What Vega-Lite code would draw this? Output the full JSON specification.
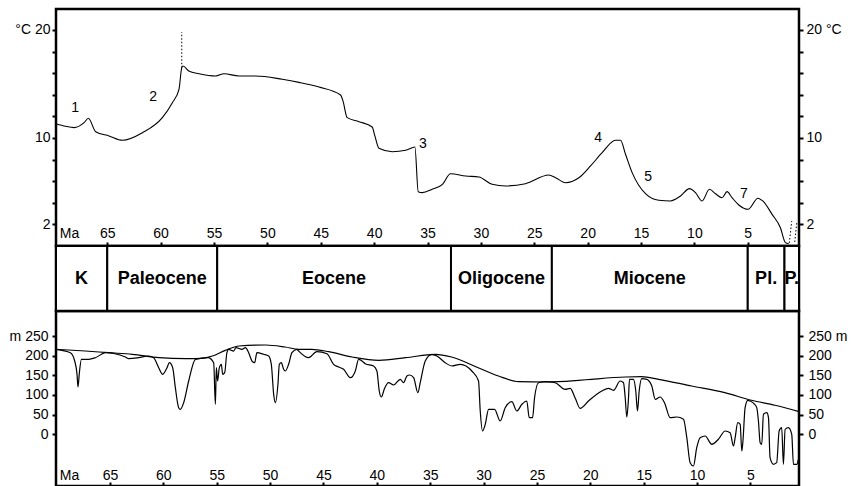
{
  "$schema": "https://vega.github.io/schema/vega-lite/v6.json",
  "autosize": {"type": "pad"},
  "padding": {"left": 7, "top": 7, "right": 5, "bottom": 0},
  "background": "white",
  "bounds": "flush",
  "spacing": 0,
  "config": {
    "view": {"stroke": "black", "strokeWidth": 2.5},
    "font": "Liberation Sans",
    "axis": {
      "labelFont": "Liberation Sans",
      "labelFontSize": 14,
      "labelColor": "black",
      "tickColor": "black",
      "tickWidth": 2,
      "domain": false,
      "grid": false,
      "labelFlush": false,
      "labelOverlap": false,
      "titleFont": "Liberation Sans",
      "titleFontSize": 14,
      "titleFontWeight": "normal",
      "titleColor": "black"
    }
  },
  "datasets": {
    "temp": [
      {"ma": 69.8, "t": 11.32}, {"ma": 68.9, "t": 11.08}, {"ma": 68.1, "t": 10.96}, {"ma": 67.17, "t": 11.42},
      {"ma": 66.77, "t": 11.82}, {"ma": 66.08, "t": 10.58}, {"ma": 64.83, "t": 10.19}, {"ma": 63.58, "t": 9.79},
      {"ma": 61.7, "t": 10.49}, {"ma": 59.84, "t": 11.88}, {"ma": 58.9, "t": 13.27}, {"ma": 58.28, "t": 14.51},
      {"ma": 58.02, "t": 16.51}, {"ma": 57.9, "t": 16.67}, {"ma": 57.36, "t": 16.2}, {"ma": 56.4, "t": 15.95},
      {"ma": 54.84, "t": 15.74}, {"ma": 54.06, "t": 15.95}, {"ma": 52.66, "t": 15.74}, {"ma": 51.1, "t": 15.74},
      {"ma": 48.6, "t": 15.43}, {"ma": 47.04, "t": 15.15}, {"ma": 45.17, "t": 14.72}, {"ma": 43.14, "t": 13.98},
      {"ma": 42.92, "t": 13.43}, {"ma": 42.52, "t": 11.88}, {"ma": 41.42, "t": 11.51}, {"ma": 40.18, "t": 11.02},
      {"ma": 39.93, "t": 10.19}, {"ma": 39.55, "t": 9.05}, {"ma": 38.3, "t": 8.73}, {"ma": 37.05, "t": 8.86},
      {"ma": 36.18, "t": 9.17}, {"ma": 35.87, "t": 5.03}, {"ma": 35.5, "t": 4.94}, {"ma": 34.56, "t": 5.25},
      {"ma": 33.6, "t": 5.71}, {"ma": 32.84, "t": 6.69}, {"ma": 31.43, "t": 6.48}, {"ma": 30.19, "t": 6.39},
      {"ma": 28.94, "t": 5.71}, {"ma": 27.69, "t": 5.56}, {"ma": 25.82, "t": 5.77}, {"ma": 23.63, "t": 6.57},
      {"ma": 23.0, "t": 6.32}, {"ma": 22.07, "t": 5.86}, {"ma": 20.82, "t": 6.32}, {"ma": 19.73, "t": 7.41},
      {"ma": 18.64, "t": 8.64}, {"ma": 17.39, "t": 9.79}, {"ma": 16.92, "t": 9.79}, {"ma": 16.45, "t": 8.49},
      {"ma": 15.83, "t": 6.79}, {"ma": 14.58, "t": 4.84}, {"ma": 13.33, "t": 4.23}, {"ma": 12.24, "t": 4.17},
      {"ma": 11.3, "t": 4.63}, {"ma": 10.46, "t": 5.31}, {"ma": 9.9, "t": 4.94}, {"ma": 9.28, "t": 4.17},
      {"ma": 8.59, "t": 5.25}, {"ma": 8.02, "t": 4.84}, {"ma": 7.41, "t": 4.47}, {"ma": 6.94, "t": 5.03},
      {"ma": 6.47, "t": 4.47}, {"ma": 5.84, "t": 3.8}, {"ma": 4.97, "t": 3.4}, {"ma": 4.04, "t": 4.42},
      {"ma": 3.6, "t": 4.17}, {"ma": 2.72, "t": 2.93}, {"ma": 1.94, "t": 1.69}, {"ma": 1.47, "t": 0.31},
      {"ma": 1.16, "t": 0.21}
    ],
    "tempDotted": [
      {"seg": "a", "i": 1, "ma": 58.02, "t": 16.5}, {"seg": "a", "i": 2, "ma": 58.02, "t": 19.8},
      {"seg": "b", "i": 1, "ma": 1.11, "t": 0.28}, {"seg": "b", "i": 2, "ma": 0.88, "t": 2.31},
      {"seg": "c", "i": 1, "ma": 0.6, "t": 0.37}, {"seg": "c", "i": 2, "ma": 0.41, "t": 2.13}
    ],
    "tempLabels": [
      {"ma": 68.0, "t": 12.75, "label": "1"}, {"ma": 60.7, "t": 13.82, "label": "2"},
      {"ma": 35.43, "t": 9.47, "label": "3"}, {"ma": 19.02, "t": 9.97, "label": "4"},
      {"ma": 14.34, "t": 6.39, "label": "5"}, {"ma": 5.37, "t": 4.79, "label": "7"}
    ],
    "epochs": [
      {"epoch": "K", "start": 69.8, "end": 65.0},
      {"epoch": "Paleocene", "start": 65.0, "end": 54.7},
      {"epoch": "Eocene", "start": 54.7, "end": 32.8},
      {"epoch": "Oligocene", "start": 32.8, "end": 23.35},
      {"epoch": "Miocene", "start": 23.35, "end": 5.0},
      {"epoch": "Pl.", "start": 5.0, "end": 1.56},
      {"epoch": "P.", "start": 1.56, "end": 0.2}
    ],
    "seaShort": [
      {"ma": 70.05, "m": 216.2}, {"ma": 68.7, "m": 207.5}, {"ma": 68.3, "m": 186.4}, {"ma": 68.08, "m": 152.6},
      {"ma": 67.99, "m": 120.3}, {"ma": 67.86, "m": 156.7}, {"ma": 67.67, "m": 190.7}, {"ma": 66.98, "m": 190.7},
      {"ma": 66.36, "m": 194.8}, {"ma": 65.42, "m": 207.5}, {"ma": 64.64, "m": 205.5}, {"ma": 63.55, "m": 196.6},
      {"ma": 63.24, "m": 192.3}, {"ma": 62.3, "m": 194.8}, {"ma": 61.37, "m": 199.1}, {"ma": 60.9, "m": 194.8},
      {"ma": 60.43, "m": 169.4}, {"ma": 60.06, "m": 152.6}, {"ma": 59.65, "m": 169.4}, {"ma": 59.43, "m": 182.1},
      {"ma": 59.12, "m": 169.4}, {"ma": 58.87, "m": 118.5}, {"ma": 58.56, "m": 67.7}, {"ma": 58.4, "m": 63.6},
      {"ma": 58.09, "m": 80.4}, {"ma": 57.62, "m": 135.6}, {"ma": 56.99, "m": 190.7}, {"ma": 55.81, "m": 194.8},
      {"ma": 55.28, "m": 182.1}, {"ma": 55.12, "m": 76.3}, {"ma": 55.03, "m": 169.4}, {"ma": 54.91, "m": 135.6},
      {"ma": 54.75, "m": 169.4}, {"ma": 54.56, "m": 178.0}, {"ma": 54.44, "m": 152.6}, {"ma": 54.25, "m": 156.7},
      {"ma": 54.04, "m": 207.5}, {"ma": 53.88, "m": 216.2}, {"ma": 53.41, "m": 211.8}, {"ma": 53.19, "m": 220.3},
      {"ma": 52.63, "m": 216.2}, {"ma": 52.31, "m": 220.3}, {"ma": 52.0, "m": 207.5}, {"ma": 51.69, "m": 186.4},
      {"ma": 51.44, "m": 182.1}, {"ma": 51.23, "m": 207.5}, {"ma": 50.6, "m": 203.5}, {"ma": 50.13, "m": 199.1},
      {"ma": 49.88, "m": 178.0}, {"ma": 49.66, "m": 101.7}, {"ma": 49.5, "m": 80.4}, {"ma": 49.26, "m": 127.2},
      {"ma": 49.13, "m": 178.0}, {"ma": 48.94, "m": 182.1}, {"ma": 48.73, "m": 165.3}, {"ma": 48.57, "m": 161.0},
      {"ma": 48.26, "m": 178.0}, {"ma": 47.95, "m": 207.5}, {"ma": 47.48, "m": 216.2}, {"ma": 47.32, "m": 211.8},
      {"ma": 46.39, "m": 194.8}, {"ma": 45.61, "m": 210.1}, {"ma": 44.67, "m": 205.0}, {"ma": 44.05, "m": 178.0},
      {"ma": 43.58, "m": 171.2}, {"ma": 43.11, "m": 165.3}, {"ma": 42.48, "m": 144.0}, {"ma": 42.01, "m": 161.0},
      {"ma": 41.7, "m": 190.7}, {"ma": 41.39, "m": 186.4}, {"ma": 41.08, "m": 179.6}, {"ma": 40.3, "m": 173.7},
      {"ma": 39.99, "m": 161.0}, {"ma": 39.77, "m": 110.1}, {"ma": 39.58, "m": 94.9}, {"ma": 39.27, "m": 117.0},
      {"ma": 38.9, "m": 131.2}, {"ma": 38.43, "m": 125.4}, {"ma": 37.8, "m": 139.9}, {"ma": 37.49, "m": 131.2},
      {"ma": 37.18, "m": 148.3}, {"ma": 36.93, "m": 150.8}, {"ma": 36.55, "m": 144.0}, {"ma": 36.15, "m": 105.8},
      {"ma": 35.93, "m": 131.2}, {"ma": 35.46, "m": 186.4}, {"ma": 34.84, "m": 203.5}, {"ma": 34.37, "m": 199.1},
      {"ma": 33.59, "m": 182.1}, {"ma": 32.97, "m": 173.7}, {"ma": 32.18, "m": 178.0}, {"ma": 31.1, "m": 161.0},
      {"ma": 30.47, "m": 135.6}, {"ma": 30.31, "m": 59.3}, {"ma": 30.09, "m": 8.4}, {"ma": 29.84, "m": 25.4},
      {"ma": 29.53, "m": 63.6}, {"ma": 28.97, "m": 63.6}, {"ma": 28.44, "m": 33.8}, {"ma": 27.97, "m": 67.7},
      {"ma": 27.35, "m": 82.9}, {"ma": 26.88, "m": 59.3}, {"ma": 26.41, "m": 76.3}, {"ma": 25.95, "m": 84.7},
      {"ma": 25.72, "m": 42.2}, {"ma": 25.41, "m": 42.2}, {"ma": 25.22, "m": 93.1}, {"ma": 24.85, "m": 131.2},
      {"ma": 24.22, "m": 133.8}, {"ma": 23.29, "m": 131.2}, {"ma": 22.35, "m": 114.4}, {"ma": 21.88, "m": 117.0},
      {"ma": 21.41, "m": 91.6}, {"ma": 20.95, "m": 66.1}, {"ma": 20.17, "m": 84.7}, {"ma": 18.92, "m": 110.1},
      {"ma": 18.3, "m": 117.0}, {"ma": 17.83, "m": 111.9}, {"ma": 17.2, "m": 135.6}, {"ma": 16.89, "m": 131.2},
      {"ma": 16.73, "m": 93.1}, {"ma": 16.58, "m": 44.0}, {"ma": 16.42, "m": 93.1}, {"ma": 16.33, "m": 139.9},
      {"ma": 15.96, "m": 139.9}, {"ma": 15.74, "m": 110.1}, {"ma": 15.58, "m": 59.3}, {"ma": 15.42, "m": 110.1},
      {"ma": 15.18, "m": 141.4}, {"ma": 14.71, "m": 139.9}, {"ma": 14.24, "m": 122.8}, {"ma": 13.92, "m": 89.0},
      {"ma": 13.46, "m": 94.9}, {"ma": 13.05, "m": 80.4}, {"ma": 12.52, "m": 42.2}, {"ma": 11.9, "m": 44.0},
      {"ma": 11.27, "m": 38.1}, {"ma": 10.96, "m": -8.6}, {"ma": 10.65, "m": -72.2}, {"ma": 10.34, "m": -80.6},
      {"ma": 10.03, "m": -34.1}, {"ma": 9.71, "m": -8.6}, {"ma": 9.24, "m": -4.3}, {"ma": 8.62, "m": -25.4},
      {"ma": 8.0, "m": -12.7}, {"ma": 7.37, "m": 8.4}, {"ma": 6.9, "m": 4.1}, {"ma": 6.59, "m": -29.8},
      {"ma": 6.43, "m": -8.6}, {"ma": 6.19, "m": 29.5}, {"ma": 5.96, "m": 25.4}, {"ma": 5.81, "m": -42.5},
      {"ma": 5.7, "m": -17.0}, {"ma": 5.5, "m": 67.7}, {"ma": 5.25, "m": 86.5}, {"ma": 5.03, "m": 84.7},
      {"ma": 4.63, "m": 77.0}, {"ma": 4.41, "m": 67.7}, {"ma": 4.25, "m": 33.8}, {"ma": 4.09, "m": -21.4},
      {"ma": 3.94, "m": -25.4}, {"ma": 3.78, "m": 50.9}, {"ma": 3.47, "m": 54.9}, {"ma": 3.31, "m": 42.2},
      {"ma": 3.16, "m": -59.5}, {"ma": 2.85, "m": -76.3}, {"ma": 2.54, "m": -72.2}, {"ma": 2.31, "m": 8.4},
      {"ma": 2.07, "m": 16.8}, {"ma": 1.91, "m": -76.3}, {"ma": 1.75, "m": 12.7}, {"ma": 1.44, "m": 16.8},
      {"ma": 1.13, "m": 0.0}, {"ma": 0.97, "m": -76.3}, {"ma": 0.66, "m": -76.3}, {"ma": 0.51, "m": -63.6}
    ],
    "seaLong": [
      {"ma": 70.05, "m": 216.2}, {"ma": 67.3, "m": 211.8}, {"ma": 65.1, "m": 207.5}, {"ma": 62.9, "m": 203.5},
      {"ma": 60.4, "m": 194.8}, {"ma": 57.9, "m": 192.3}, {"ma": 56.4, "m": 193.3}, {"ma": 55.4, "m": 199.1},
      {"ma": 54.2, "m": 213.6}, {"ma": 52.9, "m": 224.6}, {"ma": 50.4, "m": 227.1}, {"ma": 48.6, "m": 222.0},
      {"ma": 47.3, "m": 216.2}, {"ma": 46.1, "m": 216.2}, {"ma": 44.5, "m": 210.1}, {"ma": 42.3, "m": 196.6},
      {"ma": 39.8, "m": 188.2}, {"ma": 37.3, "m": 194.8}, {"ma": 34.5, "m": 203.5}, {"ma": 33.0, "m": 196.6},
      {"ma": 30.5, "m": 169.4}, {"ma": 28.6, "m": 148.3}, {"ma": 26.7, "m": 133.8}, {"ma": 24.2, "m": 133.0},
      {"ma": 21.1, "m": 137.3}, {"ma": 19.9, "m": 139.9}, {"ma": 16.7, "m": 145.7}, {"ma": 15.2, "m": 146.5},
      {"ma": 13.6, "m": 139.9}, {"ma": 10.5, "m": 122.8}, {"ma": 7.4, "m": 105.8}, {"ma": 4.9, "m": 86.5},
      {"ma": 2.7, "m": 73.8}, {"ma": 0.45, "m": 57.5}
    ]
  },
  "resolve": {"scale": {"x": "independent", "y": "independent"}},
  "vconcat": [
    {
      "width": 743,
      "height": 237,
      "encoding": {
        "x": {
          "field": "ma", "type": "quantitative",
          "scale": {"domain": [69.8, 0.2], "nice": false, "zero": false},
          "axis": {
            "orient": "bottom",
            "values": [65, 60, 55, 50, 45, 40, 35, 30, 25, 20, 15, 10, 5],
            "tickSize": -4, "labelPadding": -9, "labelBaseline": "middle",
            "title": "Ma", "titleX": 13, "titleY": -13, "titleAlign": "center", "titleBaseline": "middle", "titleAnchor": "start"
          }
        }
      },
      "layer": [
        {
          "data": {"name": "temp"},
          "mark": {"type": "line", "interpolate": "monotone", "color": "black", "strokeWidth": 1.1},
          "encoding": {
            "y": {
              "field": "t", "type": "quantitative",
              "scale": {"domain": [0, 21.94], "nice": false, "zero": false},
              "axis": {
                "orient": "left", "title": null,
                "values": [2, 4, 6, 8, 10, 12, 14, 16, 18, 20],
                "labelExpr": "datum.value == 20 ? '°C 20' : (datum.value == 10 || datum.value == 2) ? datum.label : ''",
                "tickSize": 4, "labelPadding": 2
              }
            },
            "order": {"field": "ma", "sort": "descending"}
          }
        },
        {
          "data": {"name": "tempDotted"},
          "mark": {"type": "line", "color": "black", "strokeWidth": 1, "strokeDash": [1.5, 2]},
          "encoding": {
            "y": {
              "field": "t", "type": "quantitative",
              "scale": {"domain": [0, 21.94], "nice": false, "zero": false},
              "axis": {
                "orient": "right", "title": null,
                "values": [2, 4, 6, 8, 10, 12, 14, 16, 18, 20],
                "labelExpr": "datum.value == 20 ? '20 °C' : (datum.value == 10 || datum.value == 2) ? datum.label : ''",
                "tickSize": 4, "labelPadding": 3
              }
            },
            "detail": {"field": "seg"},
            "order": {"field": "i"}
          }
        },
        {
          "data": {"name": "tempLabels"},
          "mark": {"type": "text", "fontSize": 14, "color": "black", "font": "Liberation Sans"},
          "encoding": {
            "y": {"field": "t", "type": "quantitative", "scale": {"domain": [0, 21.94], "nice": false, "zero": false}, "axis": null},
            "text": {"field": "label"}
          }
        }
      ],
      "resolve": {"axis": {"y": "independent"}}
    },
    {
      "width": 743,
      "height": 65,
      "data": {"name": "epochs"},
      "layer": [
        {
          "mark": {"type": "rect", "fill": "white", "stroke": "black", "strokeWidth": 2},
          "encoding": {
            "x": {"field": "start", "type": "quantitative", "scale": {"domain": [69.8, 0.2], "nice": false, "zero": false}, "axis": null},
            "x2": {"field": "end"}
          }
        },
        {
          "transform": [{"calculate": "(datum.start + datum.end) / 2", "as": "mid"}],
          "mark": {"type": "text", "fontSize": 18, "fontWeight": "bold", "color": "black", "font": "Liberation Sans"},
          "encoding": {
            "x": {"field": "mid", "type": "quantitative", "scale": {"domain": [69.8, 0.2], "nice": false, "zero": false}, "axis": null},
            "text": {"field": "epoch"}
          }
        }
      ]
    },
    {
      "width": 743,
      "height": 175,
      "encoding": {
        "x": {
          "field": "ma", "type": "quantitative",
          "scale": {"domain": [70.05, 0.45], "nice": false, "zero": false},
          "axis": {
            "orient": "bottom",
            "values": [65, 60, 55, 50, 45, 40, 35, 30, 25, 20, 15, 10, 5],
            "tickSize": -4, "labelPadding": -7, "labelBaseline": "middle",
            "title": "Ma", "titleX": 13, "titleY": -11, "titleAlign": "center", "titleBaseline": "middle", "titleAnchor": "start"
          }
        }
      },
      "layer": [
        {
          "data": {"name": "seaShort"},
          "mark": {"type": "line", "interpolate": "monotone", "color": "black", "strokeWidth": 1.2},
          "encoding": {
            "y": {
              "field": "m", "type": "quantitative",
              "scale": {"domain": [-131.5, 313.6], "nice": false, "zero": false},
              "axis": {
                "orient": "left", "title": null,
                "values": [0, 50, 100, 150, 200, 250],
                "labelExpr": "datum.value == 250 ? 'm 250' : datum.label",
                "tickSize": 4, "labelPadding": 4
              }
            },
            "order": {"field": "ma", "sort": "descending"}
          }
        },
        {
          "data": {"name": "seaLong"},
          "mark": {"type": "line", "interpolate": "monotone", "color": "black", "strokeWidth": 1.2},
          "encoding": {
            "y": {
              "field": "m", "type": "quantitative",
              "scale": {"domain": [-131.5, 313.6], "nice": false, "zero": false},
              "axis": {
                "orient": "right", "title": null,
                "values": [0, 50, 100, 150, 200, 250],
                "labelExpr": "datum.value == 250 ? '250 m' : datum.label",
                "tickSize": 4, "labelPadding": 5
              }
            },
            "order": {"field": "ma", "sort": "descending"}
          }
        }
      ],
      "resolve": {"axis": {"y": "independent"}}
    }
  ]
}
